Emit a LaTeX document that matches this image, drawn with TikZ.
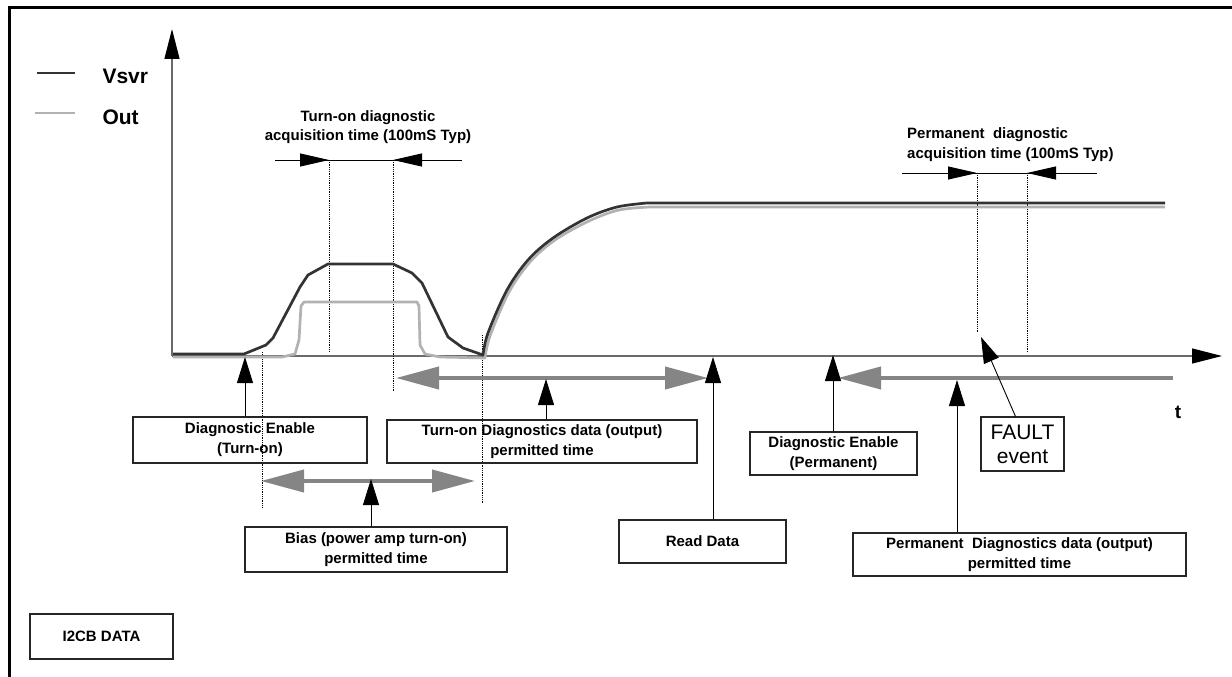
\documentclass[tikz,border=0pt]{standalone}
\usepackage{fontspec}
\setmainfont{Liberation Sans}
\usetikzlibrary{arrows.meta}
\definecolor{dark}{HTML}{333333}
\definecolor{light}{HTML}{B2B2B2}
\definecolor{bandgray}{HTML}{858585}
\definecolor{axisgray}{HTML}{6A6A6A}

\begin{document}
\begin{tikzpicture}[x=1pt, y=-1pt,
		lbl/.style={draw=black!85, line width=1.1pt, align=center, inner sep=0pt,
			font=\fontsize{15}{20}\selectfont\bfseries},
		txt/.style={align=center, inner sep=0pt, font=\fontsize{15}{18.5}\selectfont\bfseries},
		vsvr/.style={dark, line width=2.7pt, line join=round},
		outsig/.style={light, line width=2.7pt, line join=round},
		ax/.style={axisgray, line width=1.3pt, -{Triangle[length=30pt, width=15pt, black]}},
		band/.style={bandgray, line width=4pt, {Triangle[length=43pt, width=22pt]}-{Triangle[length=43pt, width=22pt]}},
		up/.style={line width=0.9pt, -{Triangle[length=26pt, width=16pt]}},
		acq/.style={line width=0.9pt, -{Triangle[length=29pt, width=13pt]}},
		vline/.style={densely dotted, line width=0.8pt}]
		\useasboundingbox (0,0) rectangle (1232,677);
		\draw [line width=3pt](1232,8) -- (9,8) -- (9,680);

		% axes
		\coordinate (o) at (172,356);
		\coordinate (ytop) at (172,29);
		\coordinate (tend) at (1222,356);
		\draw [ax](o) -- (ytop);
		\draw [ax](o) -- (tend);
		\node [font=\fontsize{19}{19}\selectfont\bfseries](t) at (1178,412) {t};

		% legend
		\draw [vsvr](37,73) -- (75,73);
		\draw [outsig](35,113) -- (75,113);
		\node [anchor=west, font=\fontsize{21}{21}\selectfont\bfseries](lv) at (99,76) {Vsvr};
		\node [anchor=west, font=\fontsize{21}{21}\selectfont\bfseries](lo) at (99,117) {Out};

		% acquisition windows
		\node [txt](acqOn) at (368,127) {Turn-on diagnostic\\acquisition time (100mS Typ)};
		\node [txt, align=left, anchor=west, font=\fontsize{15}{20}\selectfont\bfseries](acqPerm) at (907,145) {Permanent\ \ diagnostic\\acquisition time (100mS Typ)};

		\coordinate (a1) at (275,160);
		\coordinate (a2) at (329,160);
		\coordinate (a3) at (393,160);
		\coordinate (a4) at (462,160);
		\draw [line width=0.9pt](a1) -- (a4);
		\draw [acq](a1) -- (a2);
		\draw [acq](a4) -- (a3);

		\coordinate (p1) at (902,173);
		\coordinate (p2) at (977,173);
		\coordinate (p3) at (1027,173);
		\coordinate (p4) at (1097,173);
		\draw [line width=0.9pt](p1) -- (p4);
		\draw [acq](p1) -- (p2);
		\draw [acq](p4) -- (p3);

		\draw [vline](a2) -- (329,352);
		\draw [vline](a3) -- (393,391);
		\draw [vline](p2) -- (977,333);
		\draw [vline](p3) -- (1027,353);
		\draw [vline](262,352) -- (262,507);
		\draw [vline](482,335) -- (482,503);

		% signals
		\draw [outsig](173,357) -- (282,357) -- (295,354) -- (299,340) -- (301,306) -- (304,302) -- (417,302) -- (419,306) -- (420,345) -- (425,354) -- (440,357) -- (485,358)
			-- plot[smooth, tension=0.55] coordinates {(485,358) (490,336) (509,292) (530,262) (555,240) (589,221) (619,210) (650,207)} -- (1165,207);
		\draw [vsvr](173,354) -- (244,354) -- (266,345) -- (273,338) -- (300,287) -- (308,275) -- (328,264) -- (393,264) -- (412,273) -- (422,283) -- (448,337) -- (463,348) -- (483,355)
			-- plot[smooth, tension=0.55] coordinates {(483,355) (488,333) (507,290) (528,260) (553,238) (587,218) (617,207) (647,203)} -- (1165,203);

		% permitted windows
		\coordinate (on1) at (396,378);
		\coordinate (on2) at (708,378);
		\coordinate (b1) at (261,481);
		\coordinate (b2) at (475,481);
		\coordinate (pm1) at (838,378);
		\coordinate (pm2) at (1173,378);
		\draw [band](on1) -- (on2);
		\draw [band](b1) -- (b2);
		\draw [band, {Triangle[length=43pt, width=22pt]}-](pm1) -- (pm2);

		% boxes
		\node [lbl, minimum width=234pt, minimum height=46pt](enOn) at (250,440) {Diagnostic Enable\\(Turn-on)};
		\node [lbl, minimum width=310pt, minimum height=43pt](dataOn) at (542,441.5) {Turn-on Diagnostics data (output)\\permitted time};
		\node [lbl, minimum width=262pt, minimum height=45pt](bias) at (376,549.5) {Bias (power amp turn-on)\\permitted time};
		\node [lbl, minimum width=167pt, minimum height=43pt](read) at (702.5,541.5) {Read Data};
		\node [lbl, minimum width=167pt, minimum height=43pt](enPerm) at (833.5,453.5) {Diagnostic Enable\\(Permanent)};
		\node [lbl, minimum width=83pt, minimum height=54pt, font=\fontsize{21}{24}\selectfont](fault) at (1022.5,444) {FAULT\\event};
		\node [lbl, minimum width=333pt, minimum height=43pt](dataPerm) at (1019.5,554.5) {Permanent\ \ Diagnostics data (output)\\permitted time};
		\node [lbl, minimum width=143pt, minimum height=45pt](i2c) at (101.5,636.5) {I2CB DATA};

		% pointers
		\coordinate (tEnOn) at (245,357);
		\coordinate (tDataOn) at (546,379);
		\coordinate (tBias) at (371,479);
		\coordinate (tRead) at (713,357);
		\coordinate (tEnPerm) at (833,355);
		\coordinate (tDataPerm) at (957,380);
		\coordinate (tFault) at (981,337);
		\draw [up](enOn.north -| tEnOn) -- (tEnOn);
		\draw [up](dataOn.north -| tDataOn) -- (tDataOn);
		\draw [up](bias.north -| tBias) -- (tBias);
		\draw [up](read.north -| tRead) -- (tRead);
		\draw [up](enPerm.north -| tEnPerm) -- (tEnPerm);
		\draw [up](dataPerm.north -| tDataPerm) -- (tDataPerm);
		\draw [up]([xshift=-7pt]fault.north) -- (tFault);
	\end{tikzpicture}
\end{document}
